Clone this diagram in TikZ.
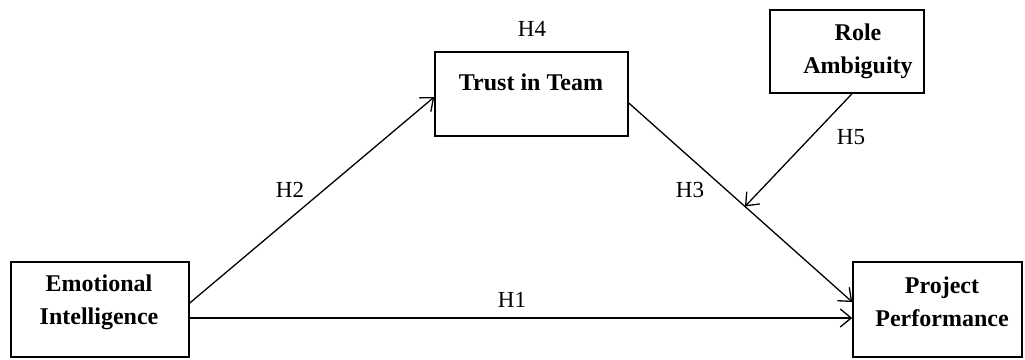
\documentclass[tikz,border=0pt]{standalone}
\usepackage{fontspec}
\setmainfont{Liberation Serif}
\usetikzlibrary{arrows.meta,calc}
\begin{document}
\begin{tikzpicture}[x=1pt,y=-1pt,
  box/.style={draw,line width=1.5pt,inner sep=0pt},
  boxtext/.style={font=\fontsize{24}{33}\selectfont\bfseries,align=center,inner sep=0pt},
  hlab/.style={font=\fontsize{23}{28}\selectfont,inner sep=0pt},
  conn/.style={line width=1.3pt,-{Straight Barb[length=11pt,width=18pt,line width=1.3pt]}}]
\useasboundingbox (0,0) rectangle (1025,359);
% boxes
\node[box,minimum width=178pt,minimum height=95pt] (ei) at (100,309.5) {};
\node[boxtext] (eit) at (99,302) {Emotional\\Intelligence};
\node[box,minimum width=193pt,minimum height=84pt] (tt) at (531.5,94) {};
\node[boxtext] (ttt) at (531,82) {Trust in Team};
\node[box,minimum width=154pt,minimum height=83pt] (ra) at (847,51.5) {};
\node[boxtext] (rat) at (858,51.5) {Role\\Ambiguity};
\node[box,minimum width=169pt,minimum height=95pt] (pp) at (937.5,309.5) {};
\node[boxtext] (ppt) at (942,302) {Project\\Performance};
% connectors
\draw[conn] ([yshift=6.5pt]ei.east) -- ([yshift=-3pt]tt.west);
\draw[conn] ([yshift=-8.5pt]ei.east) -- ([yshift=-8.5pt]pp.west);
\draw[conn] ([yshift=-9pt]tt.east) -- coordinate[pos=0.52] (m) ([yshift=7.5pt]pp.west);
\draw[conn] ([xshift=5pt]ra.south) -- (m);
% labels
\node[hlab] (h1) at (512,300) {H1};
\node[hlab] (h2) at (290,190) {H2};
\node[hlab] (h3) at (690,190) {H3};
\node[hlab] (h4) at (532,29) {H4};
\node[hlab] (h5) at (851,137) {H5};
\end{tikzpicture}
\end{document}
